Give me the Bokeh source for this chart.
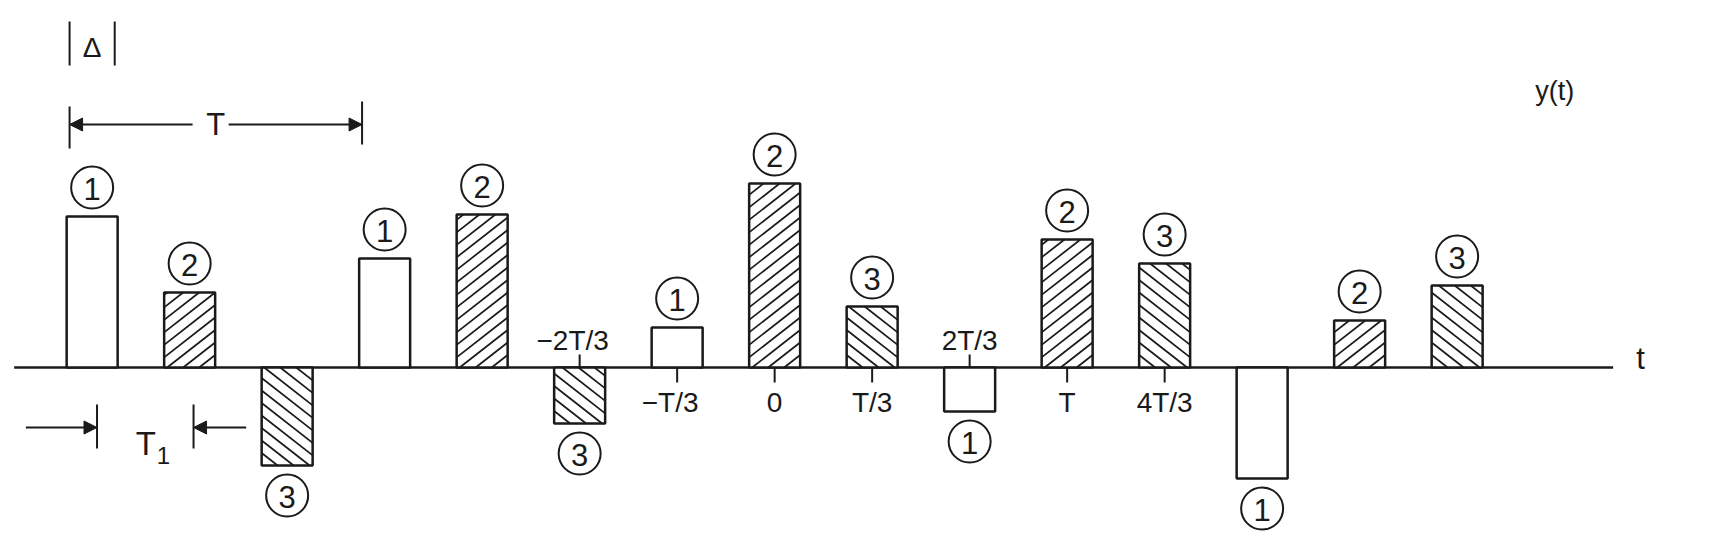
import math
from bokeh.plotting import figure
from bokeh.models import Range1d, Arrow, NormalHead, ColumnDataSource
from bokeh.core.properties import value
from bokeh.embed import file_html
from bokeh.resources import INLINE

# ---- data (t in units of T/3) ----
positions = [-7, -6, -5, -4, -3, -2, -1, 0, 1, 2, 3, 4, 5, 6, 7]
amplitudes = [1.51, 0.75, -0.98, 1.09, 1.53, -0.56, 0.40, 1.84, 0.61, -0.44, 1.28, 1.04, -1.11, 0.47, 0.82]
channels = ["1", "2", "3", "1", "2", "3", "1", "2", "3", "1", "2", "3", "1", "2", "3"]
tick_positions = [-2, -1, 0, 1, 2, 3, 4]
tick_labels = ["\u22122T/3", "\u2212T/3", "0", "T/3", "2T/3", "T", "4T/3"]

# ---- style ----
INK = "#1a1a1a"
FONT = value("Liberation Sans")
BAR_W = 0.523
HATCH_DIR = {"1": 0, "2": 1, "3": -1}   # 0 none, 1 '/', -1 '\'
W, H = 1700, 534
XR = (-7.94, 9.496)
YR = (-1.67, 3.67)
PX_X = W / (XR[1] - XR[0])   # px per x unit
PX_Y = H / (YR[1] - YR[0])   # px per y unit

p = figure(width=W, height=H,
           x_range=Range1d(*XR), y_range=Range1d(*YR),
           x_axis_type=None, y_axis_type=None,
           output_backend="svg", toolbar_location=None, min_border=0)
p.grid.visible = False
p.outline_line_color = None
p.background_fill_color = "white"

# axis line
p.segment(x0=[-7.8], y0=[0], x1=[8.6], y1=[0], line_color=INK, line_width=2.5)

bars = ColumnDataSource(dict(x=positions, top=amplitudes, ch=channels))
p.vbar(x="x", top="top", bottom=0, width=BAR_W, source=bars,
       fill_color="white", line_color=None)

# hatching: lines at ~38 degrees, ~12.5 px vertical spacing
ANG = math.radians(38)
VSP = 12.5
k = math.tan(ANG)
hx0, hy0, hx1, hy1 = [], [], [], []
for pos, amp, ch in zip(positions, amplitudes, channels):
    d = HATCH_DIR[ch]
    if d == 0:
        continue
    w = BAR_W * PX_X
    ylo = min(0.0, amp) * PX_Y
    yhi = max(0.0, amp) * PX_Y
    xl = pos - BAR_W / 2
    c = ylo - k * w
    while c < yhi:
        xa = max(0.0, (ylo - c) / k)
        xb = min(w, (yhi - c) / k)
        if xb > xa:
            ya, yb = k * xa + c, k * xb + c
            if d < 0:
                xa, xb = w - xa, w - xb
            hx0.append(xl + xa / PX_X); hy0.append(ya / PX_Y)
            hx1.append(xl + xb / PX_X); hy1.append(yb / PX_Y)
        c += VSP
p.segment(x0=hx0, y0=hy0, x1=hx1, y1=hy1, line_color=INK, line_width=1.7)

p.vbar(x="x", top="top", bottom=0, width=BAR_W, source=bars,
       fill_color=None, line_color=INK, line_width=2.5)

# circled channel numbers
cy = [a + (0.29 if a >= 0 else -0.30) for a in amplitudes]
circ = ColumnDataSource(dict(x=positions, y=cy, ch=channels))
p.scatter(x="x", y="y", source=circ, marker="circle", size=42,
          fill_color="white", line_color=INK, line_width=2)
p.text(x="x", y="y", text="ch", source=circ, text_font=FONT, text_font_size="31px",
       text_align="center", text_baseline="middle", text_color=INK, y_offset=1)

# tick marks and labels
amp_at = dict(zip(positions, amplitudes))
tx, ty0, ty1, lx, ly, lt, lo = [], [], [], [], [], [], []
for pos, lab in zip(tick_positions, tick_labels):
    up = amp_at[pos] < 0
    tx.append(pos)
    ty0.append(0)
    ty1.append(0.13 if up else -0.15)
    lx.append(pos)
    ly.append(0.27 if up else -0.35)
    lt.append(lab)
    lo.append(-7 if lab.startswith("\u2212") else 0)
p.segment(x0=tx, y0=ty0, x1=tx, y1=ty1, line_color=INK, line_width=2)
p.text(x=lx, y=ly, text=lt, x_offset=lo, text_font=FONT, text_font_size="28px",
       text_align="center", text_baseline="middle", text_color=INK)

# |Δ| marker above first bar
x_l = positions[0] - BAR_W / 2
x_r = positions[0] + BAR_W / 2
p.segment(x0=[x_l + 0.03, x_r - 0.03], y0=[3.46, 3.46], x1=[x_l + 0.03, x_r - 0.03], y1=[3.02, 3.02],
          line_color=INK, line_width=2)
p.text(x=[positions[0]], y=[3.20], text=["\u0394"], text_font=FONT, text_font_size="28px",
       text_align="center", text_baseline="middle", text_color=INK)

# T dimension (one period = 3 bar spacings)
t0 = x_l + 0.03
t1 = x_l + 3 + 0.03
p.segment(x0=[t0, t1], y0=[2.61, 2.66], x1=[t0, t1], y1=[2.19, 2.23], line_color=INK, line_width=2)
p.text(x=[(t0 + t1) / 2], y=[2.43], text=["T"], text_font=FONT, text_font_size="31px",
       text_align="center", text_baseline="middle", text_color=INK)
head = dict(size=13, fill_color=INK, line_color=INK)
p.add_layout(Arrow(end=NormalHead(**head), x_start=-5.97, y_start=2.43, x_end=t0, y_end=2.43,
                   line_color=INK, line_width=2))
p.add_layout(Arrow(end=NormalHead(**head), x_start=-5.60, y_start=2.43, x_end=t1, y_end=2.43,
                   line_color=INK, line_width=2))

# T1 dimension
a0, a1 = -6.95, -5.96
p.segment(x0=[a0, a1], y0=[-0.37, -0.37], x1=[a0, a1], y1=[-0.81, -0.81], line_color=INK, line_width=2)
p.add_layout(Arrow(end=NormalHead(**head), x_start=-7.68, y_start=-0.60, x_end=a0, y_end=-0.60,
                   line_color=INK, line_width=2))
p.add_layout(Arrow(end=NormalHead(**head), x_start=-5.42, y_start=-0.60, x_end=a1, y_end=-0.60,
                   line_color=INK, line_width=2))
p.text(x=[-6.45], y=[-0.76], text=["T"], text_font=FONT, text_font_size="33px",
       text_align="center", text_baseline="middle", text_color=INK)
p.text(x=[-6.27], y=[-0.88], text=["1"], text_font=FONT, text_font_size="24px",
       text_align="center", text_baseline="middle", text_color=INK)

# y(t) and t labels
p.text(x=[8.0], y=[2.77], text=["y(t)"], text_font=FONT, text_font_size="27px",
       text_align="center", text_baseline="middle", text_color=INK)
p.text(x=[8.88], y=[0.09], text=["t"], text_font=FONT, text_font_size="31px",
       text_align="center", text_baseline="middle", text_color=INK)

open("out.html", "w").write(file_html(p, INLINE))
